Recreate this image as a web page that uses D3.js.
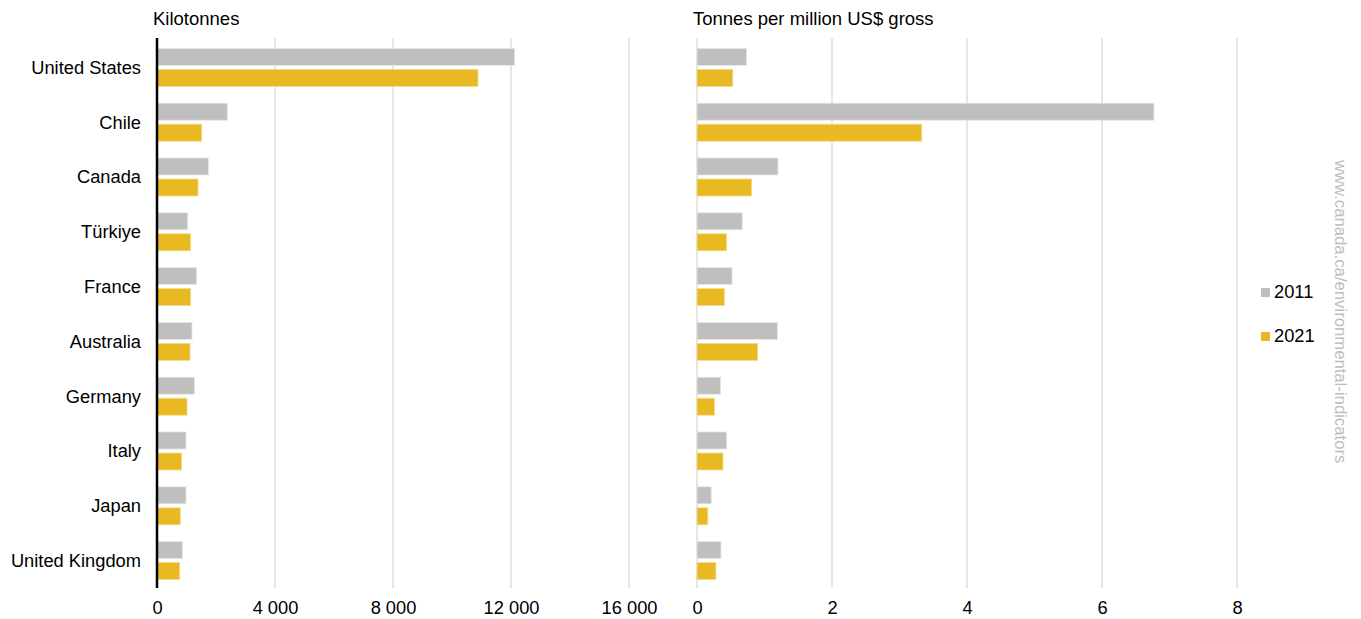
<!DOCTYPE html>
<html lang="en">
<head>
<meta charset="UTF-8">
<title>Kilotonnes and intensity</title>
<script src="https://d3js.org/d3.v7.min.js"></script>
<style>
    body { margin: 0; background: #fff; }
    svg text { font-family: "Liberation Sans", Arial, sans-serif; fill: #000; }
</style>
</head>
<body>
<div id="chart"></div>
<script>
    // Data
    const countries = ["United States", "Chile", "Canada", "Türkiye", "France",
        "Australia", "Germany", "Italy", "Japan", "United Kingdom"];
    const years = ["2011", "2021"];
    const kilotonnes2011 = [12125, 2384, 1740, 1040, 1345, 1186, 1266, 983, 983, 859];
    const kilotonnes2021 = [10881, 1515, 1390, 1142, 1142, 1119, 1017, 836, 791, 768];
    const intensity2011 = [0.735, 6.77, 1.20, 0.67, 0.52, 1.19, 0.35, 0.44, 0.21, 0.355];
    const intensity2021 = [0.53, 3.33, 0.81, 0.44, 0.405, 0.90, 0.26, 0.385, 0.16, 0.28];
    const leftTicks = [0, 4000, 8000, 12000, 16000];
    const rightTicks = [0, 2, 4, 6, 8];

    const colors = { "2011": "#bfbfbf", "2021": "#e8b923" };
    const width = 1361, height = 619;
    const plotTop = 40, plotBottom = 588;
    const fontSize = "18.3px";

    const svg = d3.select("#chart").append("svg")
        .attr("width", width)
        .attr("height", height);

    const y = d3.scaleBand().domain(countries).range([plotTop, plotBottom]).padding(0);
    const fmt = d => d3.format(",")(d).replace(/,/g, " ");

    function panel(x0, x1, maxV, ticks, v2011, v2021, title, blackAxis) {
        const x = d3.scaleLinear().domain([0, maxV]).range([x0, x1]);
        const g = svg.append("g");

        // gridlines
        g.selectAll("line.grid")
            .data(ticks.filter(t => t > 0 || !blackAxis))
            .enter().append("line")
            .attr("x1", d => x(d)).attr("x2", d => x(d))
            .attr("y1", plotTop - 2).attr("y2", plotBottom)
            .attr("stroke", "#d9d9d9").attr("stroke-width", 1.3);

        const rows = countries.map((c, i) => ({ c, a: v2011[i], b: v2021[i] }));
        const bh = 17;
        const rowG = g.selectAll("g.row").data(rows).enter().append("g")
            .attr("transform", d => `translate(0,${y(d.c) + y.bandwidth() / 2})`);

        rowG.append("rect")
            .attr("x", x(0)).attr("y", -bh - 2)
            .attr("width", d => x(d.a) - x(0)).attr("height", bh)
            .attr("fill", colors["2011"]).attr("stroke", "#e6e6e6").attr("stroke-width", 0.8);
        rowG.append("rect")
            .attr("x", x(0)).attr("y", 2)
            .attr("width", d => x(d.b) - x(0)).attr("height", bh)
            .attr("fill", colors["2021"]).attr("stroke", "#f3dd8a").attr("stroke-width", 0.8);

        if (blackAxis) {
            g.append("line")
                .attr("x1", x(0)).attr("x2", x(0))
                .attr("y1", plotTop - 2).attr("y2", plotBottom)
                .attr("stroke", "#000").attr("stroke-width", 2.5);
        }

        // x axis labels
        const axis = d3.axisBottom(x).tickValues(ticks).tickFormat(fmt).tickSize(0).tickPadding(0);
        const ax = g.append("g").attr("transform", `translate(0,${plotBottom + 13})`).call(axis);
        ax.select(".domain").remove();
        ax.selectAll("text").style("font-size", fontSize).attr("dy", "0.71em");

        g.append("text")
            .attr("x", x0 - 4).attr("y", 25)
            .style("font-size", "18.5px")
            .text(title);
        return x;
    }

    panel(157, 629, 16000, leftTicks, kilotonnes2011, kilotonnes2021, "Kilotonnes", true);
    panel(697, 1237, 8, rightTicks, intensity2011, intensity2021, "Tonnes per million US$ gross", false);

    // country labels
    svg.append("g").selectAll("text")
        .data(countries).enter().append("text")
        .attr("x", 141)
        .attr("y", d => y(d) + y.bandwidth() / 2)
        .attr("dy", "0.35em")
        .attr("text-anchor", "end")
        .style("font-size", fontSize)
        .text(d => d);

    // legend
    const leg = svg.append("g").selectAll("g").data(years).enter().append("g")
        .attr("transform", (d, i) => `translate(1261,${292 + i * 44})`);
    leg.append("rect").attr("x", 0).attr("y", -4).attr("width", 9).attr("height", 9)
        .attr("fill", d => colors[d]);
    leg.append("text").attr("x", 13).attr("y", 0).attr("dy", "0.35em")
        .style("font-size", fontSize).text(d => d);

    // watermark
    svg.append("text")
        .attr("transform", "translate(1335,160) rotate(90)")
        .style("font-size", "16.7px")
        .style("fill", "#bdbdbd")
        .text("www.canada.ca/environmental-indicators");
</script>
</body>
</html>
